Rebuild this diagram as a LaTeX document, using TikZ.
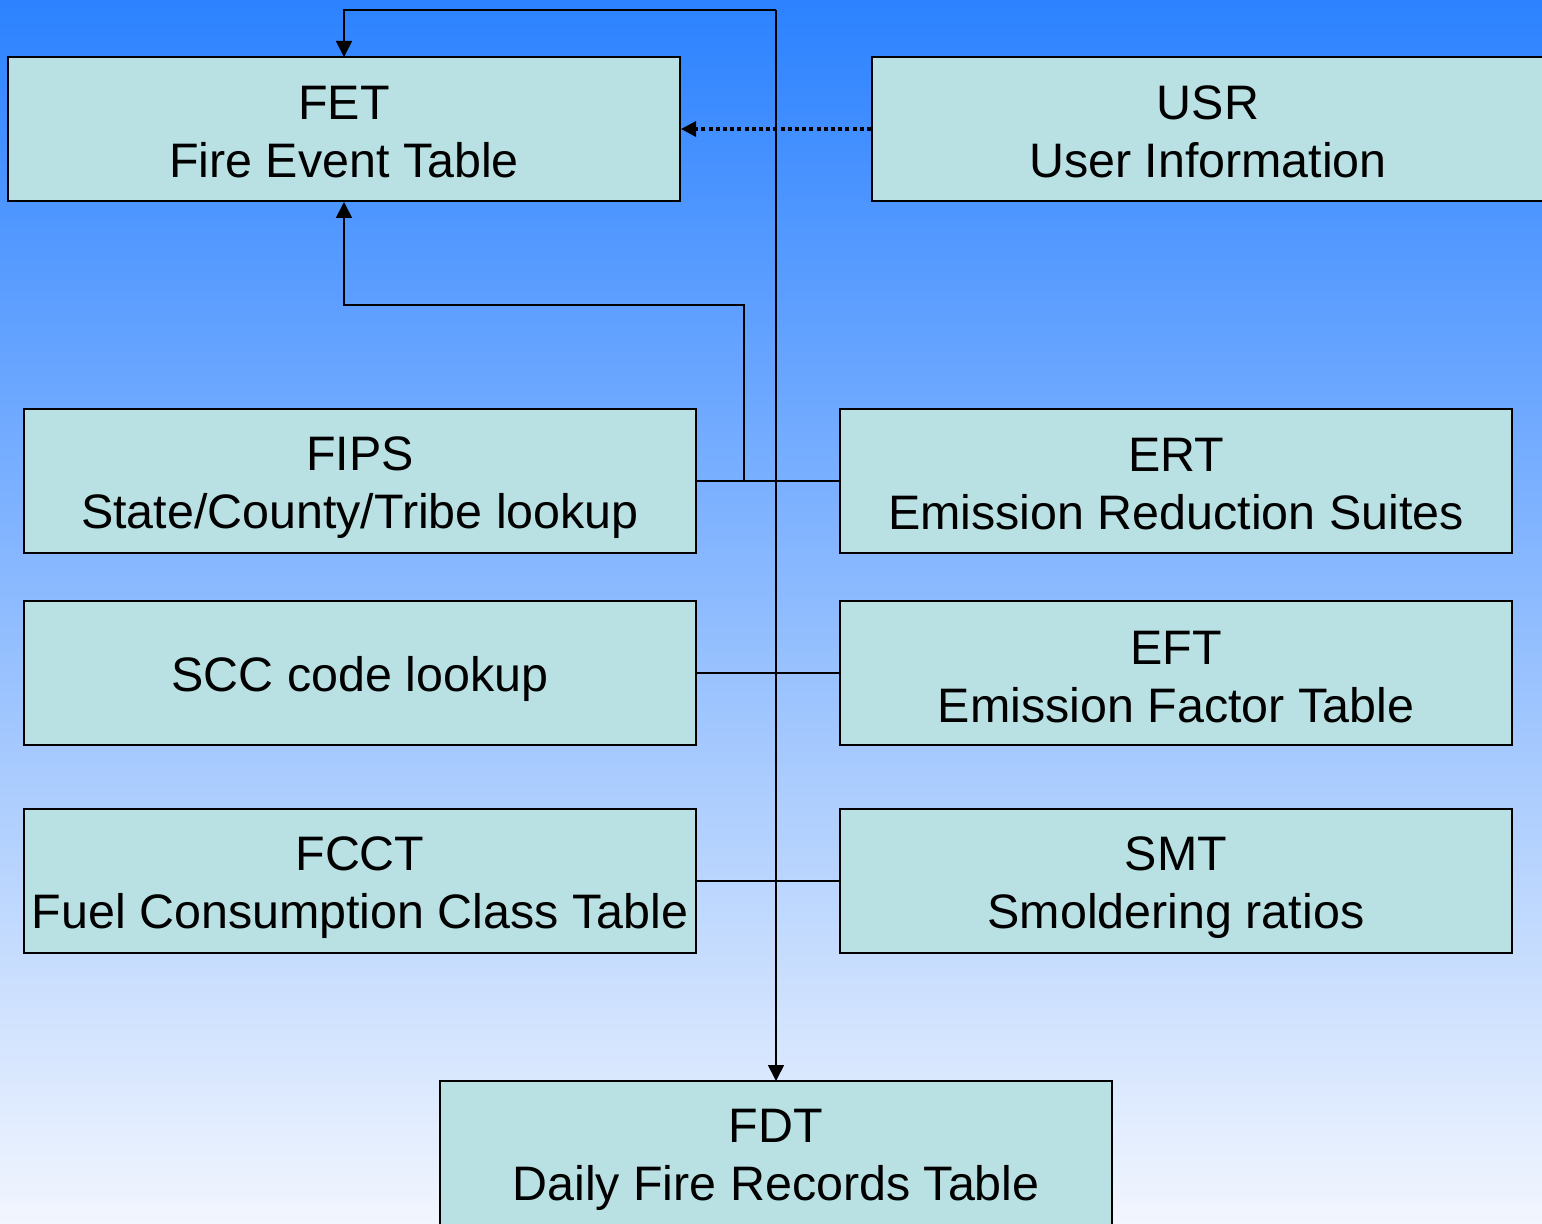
\documentclass[tikz,border=0pt]{standalone}
\usepackage{fontspec}
\setmainfont{Liberation Sans}
\usetikzlibrary{arrows.meta}
\definecolor{bgtop}{RGB}{44,130,255}
\definecolor{bgmid}{RGB}{160,188,255}
\definecolor{bgbot}{RGB}{242,246,254}
\definecolor{boxfill}{RGB}{185,224,226}
\newcommand\mystrut{\rule[-4pt]{0pt}{28pt}}
\tikzset{
  tbl/.style={draw=black, line width=1pt, fill=boxfill, minimum width=336pt, minimum height=72pt,
    inner sep=0pt, align=center, font=\fontsize{24.2}{29}\selectfont},
  conn/.style={draw=black, line width=0.8pt},
  arr/.style={-{Triangle[length=8pt,width=8pt]}},
  dotarr/.style={line width=1.6pt, dash pattern=on 2pt off 1.6pt, -{Triangle[length=7.5pt,width=7.5pt]}}
}
\begin{document}
\begin{tikzpicture}[x=0.5pt,y=-0.5pt]
\useasboundingbox (0,0) rectangle (1542,1224);
\clip (0,0) rectangle (1542,1224);
\shade[top color=bgtop, middle color=bgmid, bottom color=bgbot] (0,0) rectangle (1542,1224);

\coordinate (top) at (776,10);
\coordinate (j1) at (744,481);
\coordinate (bend) at (744,305);

\draw[conn,arr] (top) -- (776,1081);
\draw[conn,arr] (top) -| (344,57);

\node[tbl] (FET) at (344,129) {\mystrut FET\\\mystrut Fire Event Table};
\node[tbl] (USR) at (1208,129) {\mystrut USR\\\mystrut User Information};
\node[tbl] (FIPS) at (360,481) {\mystrut FIPS\\\mystrut State/County/Tribe lookup};
\node[tbl] (ERT) at (1176,481) {\mystrut ERT\\\mystrut Emission Reduction Suites};
\node[tbl] (SCC) at (360,673) {\mystrut SCC code lookup};
\node[tbl] (EFT) at (1176,673) {\mystrut EFT\\\mystrut Emission Factor Table};
\node[tbl] (FCCT) at (360,881) {\mystrut FCCT\\\mystrut Fuel Consumption Class Table};
\node[tbl] (SMT) at (1176,881) {\mystrut SMT\\\mystrut Smoldering ratios};
\node[tbl] (FDT) at (776,1153) {\mystrut FDT\\\mystrut Daily Fire Records Table};

\draw[conn] (FIPS.east) -- (ERT.west);
\draw[conn] (SCC.east) -- (EFT.west);
\draw[conn] (FCCT.east) -- (SMT.west);
\draw[conn,arr] (j1) -- (bend) -| (FET.south);
\draw[dotarr] (USR.west) -- (FET.east);
\end{tikzpicture}
\end{document}
